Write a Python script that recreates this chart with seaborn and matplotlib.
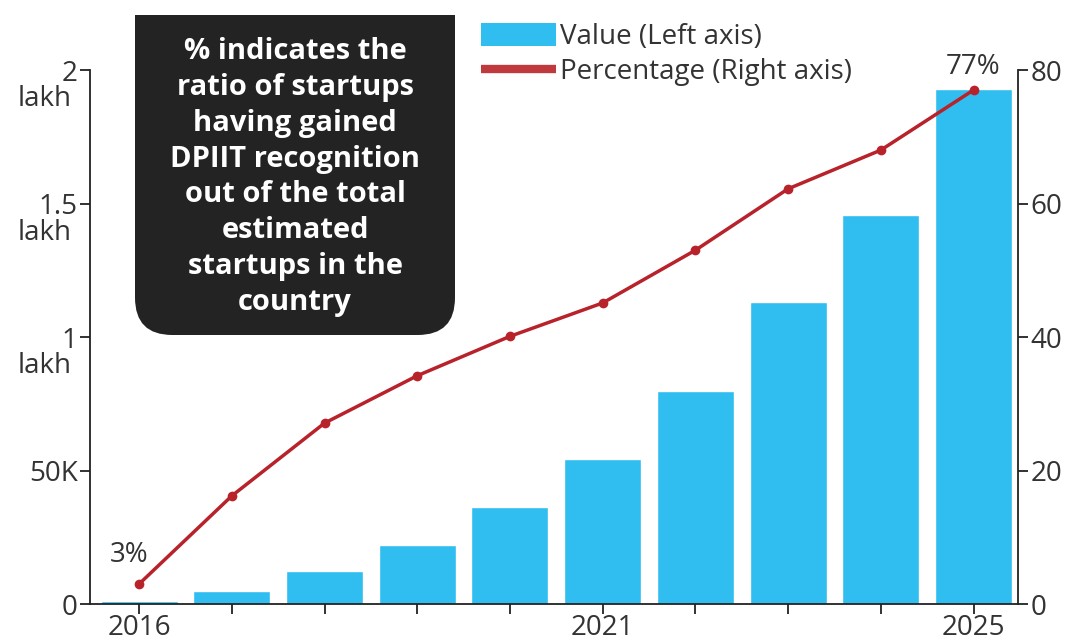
import numpy as np
import pandas as pd
import matplotlib
matplotlib.use('Agg')
import matplotlib.pyplot as plt
from matplotlib.patches import FancyBboxPatch, Rectangle, Patch
from matplotlib.lines import Line2D
import seaborn as sns

# values
years = ['2016', '2017', '2018', '2019', '2020', '2021', '2022', '2023', '2024', '2025']
startups = [1100, 4900, 12400, 22000, 36300, 54300, 79800, 113000, 145700, 193000]
pct = [3, 16.2, 27.1, 34.2, 40.1, 45.1, 53, 62.2, 68, 77]
shown_years = ['2016', '2021', '2025']

left_ticks = [0, 50000, 100000, 150000, 200000]
left_labels = ['0', '50K', '1', '1.5', '2']
lakh_ticks = [100000, 150000, 200000]
right_ticks = [0, 20, 40, 60, 80]

note = ('% indicates the\nratio of startups\nhaving gained\nDPIIT recognition\n'
        'out of the total\nestimated\nstartups in the\ncountry')

bar_blue = '#30bdf0'
line_red = '#b8222b'
text_col = '#333333'
fs = 20

sns.set_style('white')
plt.rcParams['font.family'] = ['Open Sans', 'DejaVu Sans']

df = pd.DataFrame({'year': years, 'startups': startups, 'pct': pct})

fig = plt.figure(figsize=(10.66, 6.44), dpi=100)
ax = fig.add_axes([0.0844, 0.0621, 0.8706, 0.8292])

sns.barplot(data=df, x='year', y='startups', color=bar_blue, saturation=1,
            width=0.83, ax=ax)
ax.set_xlim(-0.53, 9.48)
ax.set_ylim(0, 200000)
ax.set_xlabel('')
ax.set_ylabel('')

ax.set_yticks(left_ticks)
ax.set_yticklabels(left_labels, fontsize=fs, color=text_col)
for v in lakh_ticks:
    ax.annotate('lakh', xy=(0, v), xycoords=('axes fraction', 'data'),
                xytext=(-13, -21), textcoords='offset points', ha='right',
                va='center', fontsize=fs, color=text_col)

ax.set_xticks(range(len(years)))
ax.set_xticklabels([y if y in shown_years else '' for y in years],
                   fontsize=fs, color=text_col)

ax2 = ax.twinx()
sns.lineplot(x=np.arange(len(years)), y=df['pct'], color=line_red, lw=2.5,
             marker='o', markersize=7, markeredgewidth=0, ax=ax2)
ax2.set_ylim(0, 80)
ax2.set_xlim(-0.53, 9.48)
ax2.set_yticks(right_ticks)
ax2.set_yticklabels([str(t) for t in right_ticks], fontsize=fs, color=text_col)
ax2.set_ylabel('')

for a in (ax, ax2):
    a.spines['top'].set_visible(False)
    for s in a.spines.values():
        s.set_color('#222222')
        s.set_linewidth(1.3)
    a.tick_params(length=7, width=1.3, color='#222222', pad=2)
ax.spines['right'].set_visible(False)
ax2.spines['left'].set_visible(False)
ax2.spines['bottom'].set_visible(False)
ax.tick_params(axis='x', direction='out', bottom=True, pad=0)
ax.tick_params(axis='y', direction='out', left=True)
ax2.tick_params(axis='y', direction='out', right=True)

ax2.text(0.1, pct[0] + 2.3, f'{pct[0]:.0f}%', ha='right', va='bottom',
         fontsize=fs, color=text_col)
ax2.text(9, pct[-1] + 1.3, f'{pct[-1]:.0f}%', ha='center', va='bottom',
         fontsize=fs, color=text_col)

# dark note box, square top and rounded bottom
box_x0, box_y0 = 135 / 1066, 1 - 335 / 644
box_w, box_h = 320 / 1066, 320 / 644
fig.patches.append(FancyBboxPatch((box_x0, box_y0), box_w, box_h,
                                  boxstyle='round,pad=0,rounding_size=0.035',
                                  mutation_aspect=1066 / 644,
                                  transform=fig.transFigure, facecolor='#232323',
                                  edgecolor='none', zorder=5))
fig.patches.append(Rectangle((box_x0, box_y0 + box_h / 2), box_w, box_h / 2,
                             transform=fig.transFigure, facecolor='#232323',
                             edgecolor='none', zorder=5))
fig.text(box_x0 + box_w / 2, box_y0 + box_h / 2 - 0.003, note, ha='center',
         va='center', color='white', fontsize=21, fontweight='bold',
         linespacing=1.31, zorder=6)

handles = [Patch(facecolor=bar_blue, edgecolor='none'),
           Line2D([0], [0], color='#c0393c', lw=6, solid_capstyle='butt')]
fig.legend(handles, ['Value (Left axis)', 'Percentage (Right axis)'],
           loc='upper left', bbox_to_anchor=(0.428, 1.003), frameon=False,
           fontsize=fs, handlelength=2.7, handleheight=0.9, handletextpad=0.15,
           labelspacing=0.25, labelcolor=text_col)

fig.savefig('out.png', dpi=100)
